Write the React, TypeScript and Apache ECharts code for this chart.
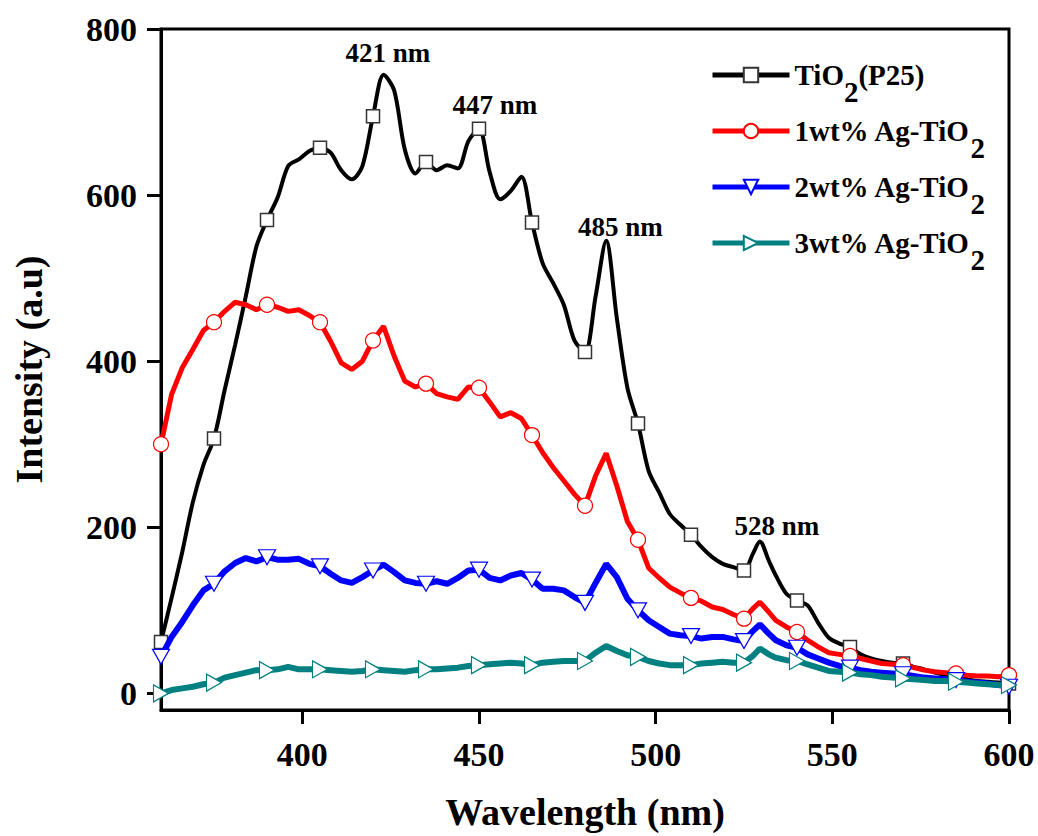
import React, { useEffect, useRef } from 'react';
import * as echarts from 'echarts';

const FONT = '"Liberation Serif", "Times New Roman", Times, serif';

// Wavelength grid (nm)
const wavelengths = [
  360, 363, 366, 369, 372, 375, 378, 381, 384, 387,
  390, 393, 396, 399, 402, 405, 408, 411, 414, 417,
  420, 423, 426, 429, 432, 435, 438, 441, 444, 447,
  450, 453, 456, 459, 462, 465, 468, 471, 474, 477,
  480, 483, 486, 489, 492, 495, 498, 501, 504, 507,
  510, 513, 516, 519, 522, 525, 527.5, 529.5, 532, 534,
  537, 540, 543, 546, 549, 552, 555, 558, 561, 564,
  567, 570, 573, 576, 579, 582, 585, 588, 591, 594,
  597, 600,
];

const tio2P25 = [
  62, 115, 170, 230, 275, 307, 365, 420, 478, 538,
  570, 597, 635, 643, 653, 657, 651, 630, 619, 635,
  695, 745, 726, 655, 626, 640, 630, 636, 632, 665,
  680, 628, 595, 605, 622, 567, 518, 494, 468, 425,
  411, 478, 545, 452, 368, 325, 268, 242, 216, 203,
  191, 176, 164, 156, 152, 148, 168, 183, 160, 142,
  120, 112, 106, 85, 67, 60, 56, 47, 42, 39,
  37, 36, 32, 29, 25, 22, 20, 17, 15, 14,
  13, 12,
];

const ag1 = [
  300, 360, 392, 414, 437, 447, 460, 471, 468, 462,
  468, 465, 460, 462, 455, 447, 424, 398, 390, 400,
  425, 442, 406, 376, 369, 373, 361, 357, 354, 369,
  368, 351, 333, 338, 331, 311, 290, 272, 256, 240,
  226, 262, 289, 250, 207, 185, 151, 139, 128, 121,
  115, 111, 104, 101, 95, 90, 102, 110, 98, 88,
  80, 74, 64, 56, 49, 47, 45, 42, 39, 36,
  35, 34, 31, 28, 26, 25, 24, 22, 21, 21,
  20, 22,
];

const ag2 = [
  44, 68, 86, 106, 124, 132, 147, 157, 163, 159,
  164, 161, 161, 162, 156, 153, 144, 136, 133, 140,
  148, 155, 146, 136, 133, 132, 135, 132, 139, 148,
  149, 139, 136, 142, 145, 137, 126, 126, 124, 116,
  109, 133, 156, 140, 114, 100, 88, 80, 72, 70,
  69, 66, 68, 68, 65, 63, 75, 83, 72, 64,
  58, 55, 47, 42, 37, 33, 31, 28, 26, 25,
  24, 23, 21, 19, 18, 17, 16, 14, 13, 12,
  10, 8,
];

const ag3 = [
  0, 4, 6, 8, 11, 13, 19, 22, 25, 28,
  28, 29, 32, 29, 29, 29, 28, 27, 26, 27,
  29, 28, 27, 26, 28, 29, 29, 30, 31, 33,
  34, 35, 36, 37, 36, 34, 37, 38, 39, 39,
  39, 49, 57, 51, 46, 44, 39, 36, 34, 34,
  34, 36, 37, 38, 37, 37, 45, 54, 47, 43,
  40, 39, 35, 31, 27, 26, 25, 23, 22, 20,
  19, 18, 17, 16, 15, 15, 14, 13, 12, 11,
  10, 10,
];

const seriesNames = ['TiO2(P25)', '1wt% Ag-TiO2', '2wt% Ag-TiO2', '3wt% Ag-TiO2'];
const legendRich: Record<string, string> = {
  'TiO2(P25)': '{m|TiO}{s|2}{m|(P25)}',
  '1wt% Ag-TiO2': '{m|1wt% Ag-TiO}{s|2}',
  '2wt% Ag-TiO2': '{m|2wt% Ag-TiO}{s|2}',
  '3wt% Ag-TiO2': '{m|3wt% Ag-TiO}{s|2}',
};

const xTicks = [400, 450, 500, 550, 600];
const yTicks = [0, 200, 400, 600, 800];

// Peak annotations: text and anchor (wavelength, intensity)
const peakTexts = ['421 nm', '447 nm', '485 nm', '528 nm'];
const peakAnchorX = [424.2, 454.5, 490, 534.3];
const peakAnchorY = [771, 708, 561, 201];

const MARKER_STEP = 15;
const isMarker = (w: number) => (w - 360) % MARKER_STEP === 0;

function buildData(vals: number[]) {
  return wavelengths.map((w, i) =>
    isMarker(w) ? { value: [w, vals[i]] } : { value: [w, vals[i]], symbol: 'none' }
  );
}

const triDown = 'path://M0,0L20,0L10,17Z';
const triRight = 'path://M0,0L17,10L0,20Z';

export default function App() {
  const ref = useRef<HTMLDivElement>(null);
  useEffect(() => {
    const chart = echarts.init(ref.current!, null, { renderer: 'svg' });
    const labelStyle = { fontFamily: FONT, fontWeight: 'bold' as const, color: '#000' };
    const option: any = {
      animation: false,
      backgroundColor: '#fff',
      grid: {
        left: 161, right: 29, top: 29, bottom: 121,
        show: true, borderColor: '#000', borderWidth: 3, backgroundColor: 'transparent',
      },
      legend: {
        orient: 'vertical',
        left: 710,
        top: 60,
        padding: 0,
        itemGap: 10,
        itemWidth: 77,
        itemHeight: 18,
        data: seriesNames,
        lineStyle: { width: 5 },
        selectedMode: false,
        formatter: (name: string) => legendRich[name],
        textStyle: {
          ...labelStyle,
          fontSize: 29,
          rich: {
            m: { ...labelStyle, fontSize: 29, padding: [16, 0, 16, 0], verticalAlign: 'top' },
            s: { ...labelStyle, fontSize: 29, padding: [33, 0, 0, 0], verticalAlign: 'top' },
          },
        },
      },
      xAxis: {
        type: 'value',
        min: 360,
        max: 600,
        name: 'Wavelength (nm)',
        nameLocation: 'middle',
        nameGap: 83,
        nameTextStyle: { ...labelStyle, fontSize: 38 },
        axisLine: { show: true, onZero: false, lineStyle: { color: '#000', width: 3 } },
        axisTick: { show: true, customValues: xTicks, length: 14, lineStyle: { color: '#000', width: 3 } },
        axisLabel: { show: true, customValues: xTicks, margin: 27, ...labelStyle, fontSize: 34 },
        splitLine: { show: false },
      },
      yAxis: {
        type: 'value',
        min: -20,
        max: 800,
        name: 'Intensity (a.u)',
        nameLocation: 'middle',
        nameGap: 113,
        nameTextStyle: { ...labelStyle, fontSize: 38 },
        axisLine: { show: true, onZero: false, lineStyle: { color: '#000', width: 3 } },
        axisTick: { show: true, customValues: yTicks, length: 14, lineStyle: { color: '#000', width: 3 } },
        axisLabel: { show: true, customValues: yTicks, margin: 24, ...labelStyle, fontSize: 34 },
        splitLine: { show: false },
      },
      series: [
        {
          name: seriesNames[0],
          type: 'line',
          data: buildData(tio2P25),
          smooth: 0.3,
          showAllSymbol: true,
          symbol: 'rect',
          symbolSize: 13,
          lineStyle: { color: '#000', width: 4 },
          itemStyle: { color: '#fff', borderColor: '#333', borderWidth: 1.5 },
          markPoint: {
            symbol: 'circle',
            symbolSize: 0,
            silent: true,
            label: { show: true, position: 'inside', formatter: '{b}', ...labelStyle, fontSize: 27 },
            data: peakTexts.map((t, i) => ({ name: t, coord: [peakAnchorX[i], peakAnchorY[i]] })),
          },
          z: 2,
        },
        {
          name: seriesNames[1],
          type: 'line',
          data: buildData(ag1),
          showAllSymbol: true,
          symbol: 'circle',
          symbolSize: 15,
          lineStyle: { color: '#ff0000', width: 5 },
          itemStyle: { color: '#fff', borderColor: '#ff0000', borderWidth: 1.2 },
          z: 3,
        },
        {
          name: seriesNames[2],
          type: 'line',
          data: buildData(ag2),
          showAllSymbol: true,
          symbol: triDown,
          symbolSize: [17, 15],
          lineStyle: { color: '#0000ff', width: 6 },
          itemStyle: { color: '#fff', borderColor: '#0000ff', borderWidth: 1.2 },
          z: 4,
        },
        {
          name: seriesNames[3],
          type: 'line',
          data: buildData(ag3),
          showAllSymbol: true,
          symbol: triRight,
          symbolSize: [15, 17],
          lineStyle: { color: '#008080', width: 6 },
          itemStyle: { color: '#fff', borderColor: '#008080', borderWidth: 1.2 },
          z: 5,
        },
      ],
    };
    chart.setOption(option);
    return () => chart.dispose();
  }, []);
  return (
    <div
      ref={ref}
      style={{ position: 'fixed', left: 0, top: 0, width: 1038, height: 836, background: '#fff' }}
    />
  );
}
